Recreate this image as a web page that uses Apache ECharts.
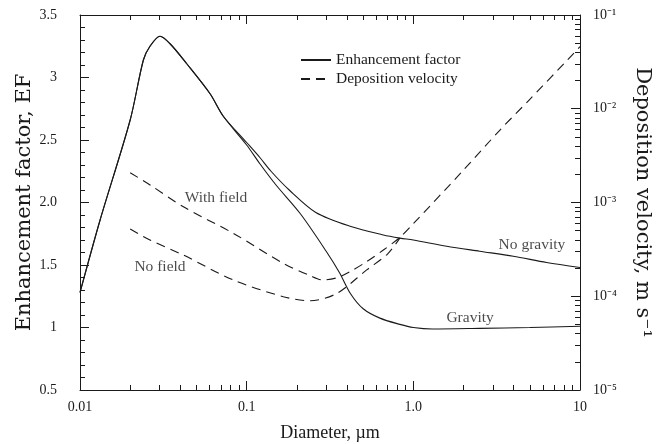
<!DOCTYPE html>
<html>
<head>
<meta charset="utf-8">
<script src="https://cdn.jsdelivr.net/npm/echarts@6/dist/echarts.min.js"></script>
<style>
  html, body { margin: 0; padding: 0; background: #ffffff; }
  #chart { width: 666px; height: 444px; }
</style>
</head>
<body>
<div id="chart"></div>
<script>
// Enhancement factor (left axis) and deposition velocity (right, log axis)
// against particle diameter (log axis).

// Enhancement factor without gravitational settling
const noGravityDiameter = [0.01, 0.0132, 0.020, 0.024, 0.0263, 0.0302, 0.0347, 0.0437, 0.0603, 0.0724,
  0.100, 0.120, 0.140, 0.180, 0.260, 0.417, 0.661, 0.832, 1.0, 1.585, 2.5, 3.98, 6.3, 10];
const noGravityEF = [1.28, 1.86, 2.66, 3.14, 3.25, 3.33, 3.27, 3.11, 2.87, 2.69,
  2.48, 2.36, 2.25, 2.10, 1.92, 1.81, 1.74, 1.715, 1.70, 1.65, 1.61, 1.57, 1.52, 1.48];

// Enhancement factor with gravitational settling
const gravityDiameter = [0.01, 0.0132, 0.020, 0.024, 0.0263, 0.0302, 0.0347, 0.0437, 0.0603, 0.0724,
  0.100, 0.120, 0.150, 0.210, 0.300, 0.360, 0.420, 0.500, 0.630, 0.830, 1.0, 1.3, 2.5, 5.0, 10];
const gravityEF = [1.28, 1.86, 2.66, 3.14, 3.25, 3.33, 3.27, 3.11, 2.87, 2.69,
  2.46, 2.31, 2.14, 1.91, 1.61, 1.44, 1.27, 1.15, 1.075, 1.025, 1.0, 0.988, 0.993, 1.0, 1.01];

// Deposition velocity with electric field (m/s)
const withFieldDiameter = [0.020, 0.0263, 0.0417, 0.0832, 0.166, 0.240, 0.288, 0.350, 0.417, 0.525, 0.661, 0.832,
  1.0, 2.0, 3.31, 5.0, 10];
const withFieldVelocity = [2.08e-3, 1.54e-3, 9.0e-4, 4.69e-4, 2.24e-4, 1.66e-4, 1.49e-4, 1.58e-4, 1.83e-4, 2.34e-4, 3.11e-4, 4.25e-4,
  5.94e-4, 2.22e-3, 5.93e-3, 1.26e-2, 4.59e-2];

// Deposition velocity without field (m/s)
const noFieldDiameter = [0.020, 0.0263, 0.0417, 0.0832, 0.166, 0.240, 0.347, 0.525, 0.700, 0.832];
const noFieldVelocity = [5.21e-4, 3.98e-4, 2.75e-4, 1.49e-4, 9.9e-5, 8.95e-5, 1.07e-4, 1.91e-4, 2.82e-4, 4.20e-4];

// Axis ticks and their labels
const diameterTicks = [0.01, 0.1, 1, 10];
const diameterTickLabels = ['0.01', '0.1', '1.0', '10'];
const efTicks = [0.5, 1, 1.5, 2, 2.5, 3, 3.5];
const efTickLabels = ['0.5', '1', '1.5', '2.0', '2.5', '3', '3.5'];
const velocityTicks = [1e-5, 1e-4, 1e-3, 1e-2, 1e-1];
const velocityTickLabels = ['10\u207B\u2075', '10\u207B\u2074', '10\u207B\u00B3', '10\u207B\u00B2', '10\u207B\u00B9'];
const logSubSteps = [2, 3, 4, 5, 6, 7, 8, 9];

// Curve annotations placed in (diameter, EF) coordinates
const noteText = ['With field', 'No field', 'No gravity', 'Gravity'];
const noteDiameter = [0.0655, 0.0302, 5.15, 2.19];
const noteEF = [2.036, 1.484, 1.66, 1.076];

const zip = (xs, ys) => xs.map((x, i) => [x, ys[i]]);
const minorLogTicks = (decades) => decades.flatMap(d => logSubSteps.map(k => +(d * k).toPrecision(6)));
const lookup = (ticks, labels) => (v) => {
  const i = ticks.findIndex(t => Math.abs(t - v) <= Math.abs(t) * 1e-6);
  return i >= 0 ? labels[i] : '';
};

const FONT = 'Liberation Serif';
const TITLE_FONT = 'DejaVu Serif';
const INK = '#1a1a1a';
const tickText = { color: INK, fontFamily: FONT, fontSize: 14 };

function logXAxis(position, major, showLine, showLabel) {
  return {
    type: 'log', logBase: 10, min: 0.01, max: 10, position: position, gridIndex: 0,
    axisLine: { show: showLine, lineStyle: { color: INK, width: 1 } },
    axisTick: {
      show: true, inside: true, length: major ? 9 : 5,
      customValues: major ? diameterTicks : minorLogTicks([0.01, 0.1, 1]),
      lineStyle: { color: INK, width: 1 }
    },
    axisLabel: showLabel
      ? Object.assign({ show: true, margin: 10, customValues: diameterTicks,
          formatter: lookup(diameterTicks, diameterTickLabels) }, tickText)
      : { show: false },
    splitLine: { show: false },
    minorTick: { show: false }
  };
}

function logYAxis(major, showLabel) {
  return {
    type: 'log', logBase: 10, min: 1e-5, max: 1e-1, position: 'right', gridIndex: 0,
    axisLine: { show: major, lineStyle: { color: INK, width: 1 } },
    axisTick: {
      show: true, inside: true, length: major ? 9 : 5,
      customValues: major ? velocityTicks : minorLogTicks([1e-5, 1e-4, 1e-3, 1e-2]),
      lineStyle: { color: INK, width: 1 }
    },
    axisLabel: showLabel
      ? Object.assign({ show: true, margin: 13, customValues: velocityTicks,
          formatter: lookup(velocityTicks, velocityTickLabels) }, tickText)
      : { show: false },
    splitLine: { show: false }
  };
}

const xMain = logXAxis('bottom', true, true, true);
Object.assign(xMain, {
  name: 'Diameter, \u00B5m', nameLocation: 'middle', nameGap: 34,
  nameTextStyle: { color: INK, fontFamily: FONT, fontSize: 18 }
});

const yRight = logYAxis(true, true);
Object.assign(yRight, {
  name: 'Deposition velocity, m s\u207B\u00B9', nameLocation: 'middle', nameGap: 52, nameRotate: -90,
  nameTextStyle: { color: INK, fontFamily: TITLE_FONT, fontSize: 21 }
});

const chart = echarts.init(document.getElementById('chart'), null, { renderer: 'canvas' });

const lineBase = { type: 'line', symbol: 'none', smooth: 0.3, silent: true, animation: false };

chart.setOption({
  backgroundColor: '#ffffff',
  animation: false,
  grid: { left: 80, right: 86, top: 15, bottom: 54, containLabel: false, outerBoundsMode: 'none' },
  legend: {
    data: ['Enhancement factor', 'Deposition velocity'],
    orient: 'vertical', left: 295, top: 47,
    itemWidth: 30, itemHeight: 12, itemGap: 3,
    itemStyle: { opacity: 0 },
    textStyle: { color: INK, fontFamily: FONT, fontSize: 15.5 },
    selectedMode: false
  },
  xAxis: [
    xMain,
    logXAxis('bottom', false, false, false),
    logXAxis('top', true, true, false),
    logXAxis('top', false, false, false)
  ],
  yAxis: [
    {
      type: 'value', min: 0.5, max: 3.5, interval: 0.5, position: 'left', gridIndex: 0,
      name: 'Enhancement factor, EF', nameLocation: 'middle', nameGap: 45, nameRotate: 90,
      nameMoveOverlap: false,
      nameTextStyle: { color: INK, fontFamily: TITLE_FONT, fontSize: 21 },
      axisLine: { show: true, lineStyle: { color: INK, width: 1 } },
      axisTick: { show: true, inside: true, length: 9, lineStyle: { color: INK, width: 1 } },
      minorTick: { show: true, splitNumber: 5, length: 5, lineStyle: { color: INK, width: 1 } },
      axisLabel: Object.assign({ margin: 23, formatter: lookup(efTicks, efTickLabels) }, tickText),
      splitLine: { show: false }
    },
    yRight,
    logYAxis(false, false)
  ],
  series: [
    Object.assign({}, lineBase, {
      name: 'Enhancement factor', xAxisIndex: 0, yAxisIndex: 0,
      data: zip(noGravityDiameter, noGravityEF),
      itemStyle: { color: INK },
      lineStyle: { color: INK, width: 1.1, type: 'solid' }
    }),
    Object.assign({}, lineBase, {
      name: 'Enhancement factor', xAxisIndex: 0, yAxisIndex: 0,
      data: zip(gravityDiameter, gravityEF),
      itemStyle: { color: INK },
      lineStyle: { color: INK, width: 1.1, type: 'solid' }
    }),
    Object.assign({}, lineBase, {
      name: 'Deposition velocity', xAxisIndex: 0, yAxisIndex: 1,
      data: zip(withFieldDiameter, withFieldVelocity),
      itemStyle: { color: INK },
      lineStyle: { color: INK, width: 1.1, type: [9, 6] }
    }),
    Object.assign({}, lineBase, {
      name: 'Deposition velocity', xAxisIndex: 0, yAxisIndex: 1,
      data: zip(noFieldDiameter, noFieldVelocity),
      itemStyle: { color: INK },
      lineStyle: { color: INK, width: 1.1, type: [9, 6] }
    }),
    {
      type: 'scatter', name: 'notes', xAxisIndex: 0, yAxisIndex: 0,
      symbolSize: 0, silent: true, animation: false,
      data: noteText.map((t, i) => ({ value: [noteDiameter[i], noteEF[i]], name: t })),
      label: {
        show: true, position: 'inside', formatter: (p) => p.name,
        color: INK, fontFamily: FONT, fontSize: 15.5
      }
    }
  ]
});
</script>
</body>
</html>
